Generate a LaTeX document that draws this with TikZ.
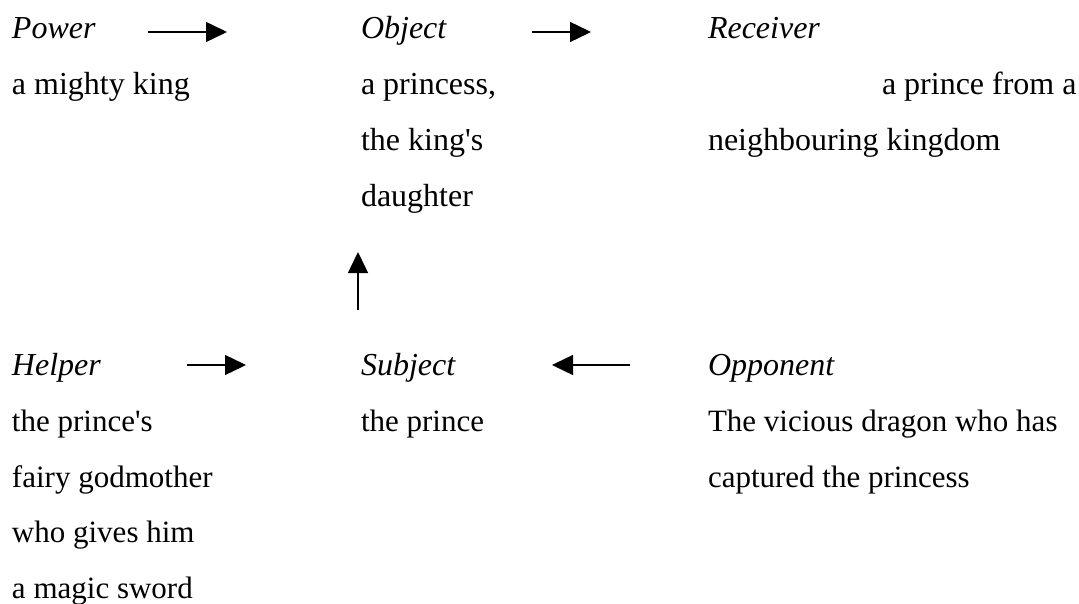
\documentclass[tikz,border=0pt]{standalone}
\usepackage{fontspec}
\newfontfamily\ser{Liberation Serif}
\usetikzlibrary{arrows.meta}
\begin{document}
\begin{tikzpicture}[x=1pt,y=-1pt,
  txt/.style={anchor=base west,inner sep=0pt,outer sep=0pt,font=\ser\fontsize{32}{38}\selectfont},
  txtb/.style={txt,font=\ser\fontsize{31}{38}\selectfont},
  role/.style={txt,font=\ser\fontsize{32}{38}\selectfont\itshape},
  arr/.style={line width=1.4pt,-{Triangle[length=21pt,width=20pt]}}]
\useasboundingbox[fill=white] (0,0) rectangle (1079,604);
% top row
\node[role] (power) at (12,39) {Power};
\node[txt] (power1) at (12,95) {a mighty king};
\node[role] (object) at (361,39) {Object};
\node[txt] (object1) at (361,95) {a princess,};
\node[txt] (object2) at (361,151) {the king's};
\node[txt] (object3) at (361,207) {daughter};
\node[role] (receiver) at (708,39) {Receiver};
\node[txt] (receiver1) at (882,95) {a prince from a};
\node[txt] (receiver2) at (708,151) {neighbouring kingdom};
% bottom row
\node[role] (helper) at (12,375) {Helper};
\node[txtb] (helper1) at (12,431) {the prince's};
\node[txtb] (helper2) at (12,487) {fairy godmother};
\node[txtb] (helper3) at (12,542) {who gives him};
\node[txtb] (helper4) at (12,598) {a magic sword};
\node[role] (subject) at (361,375) {Subject};
\node[txtb] (subject1) at (361,431) {the prince};
\node[role] (opponent) at (708,375) {Opponent};
\node[txtb] (opponent1) at (708,431) {The vicious dragon who has};
\node[txtb] (opponent2) at (708,487) {captured the princess};
% arrow end points
\coordinate (a1s) at (148,32);  \coordinate (a1e) at (227,32);
\coordinate (a2s) at (532,32);  \coordinate (a2e) at (591,32);
\coordinate (a3s) at (358,310); \coordinate (a3e) at (358,252);
\coordinate (a4s) at (187,365); \coordinate (a4e) at (246,365);
\coordinate (a5s) at (630,365); \coordinate (a5e) at (552,365);
\draw[arr] (a1s) -- (a1e);
\draw[arr] (a2s) -- (a2e);
\draw[arr] (a3s) -- (a3e);
\draw[arr] (a4s) -- (a4e);
\draw[arr] (a5s) -- (a5e);
\end{tikzpicture}
\end{document}
